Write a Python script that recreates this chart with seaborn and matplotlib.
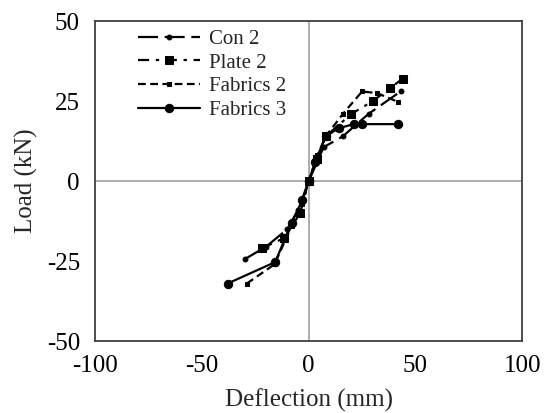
import matplotlib
matplotlib.use("Agg")
import matplotlib.pyplot as plt
import seaborn as sns
import pandas as pd

# Load-deflection curves (deflection in mm, load in kN)
con2_defl = [-30, -20, -10, -5, 0, 7, 16, 28, 43]
con2_load = [-24.4, -20.5, -15, -9, 0, 10.6, 14, 21, 28]

plate2_defl = [-22, -11.5, -4, 0, 4, 8, 20, 30, 38, 44]
plate2_load = [-21, -17.8, -10, 0, 7, 14, 21, 25, 29, 32]

fabrics2_defl = [-29, -16, -8, -3, 0, 4, 8, 16, 25, 32, 42]
fabrics2_load = [-32, -26, -14, -7, 0, 8, 14, 21, 28, 27.5, 24.7]

fabrics3_defl = [-38, -15.7, -8, -3, 0, 3, 8, 14, 21, 25, 42]
fabrics3_load = [-32, -25.3, -13, -6, 0, 6, 14, 16.5, 17.8, 17.8, 17.8]

series_names = ["Con 2", "Plate 2", "Fabrics 2", "Fabrics 3"]

x_ticks = [-100, -50, 0, 50, 100]
y_ticks = [-50, -25, 0, 25, 50]

frames = []
for name, xs, ys in zip(series_names,
                        [con2_defl, plate2_defl, fabrics2_defl, fabrics3_defl],
                        [con2_load, plate2_load, fabrics2_load, fabrics3_load]):
    frames.append(pd.DataFrame({"Deflection": xs, "Load": ys, "Specimen": name}))
df = pd.concat(frames, ignore_index=True)

sns.set_style("white")
plt.rcParams["font.family"] = ["Liberation Serif", "DejaVu Serif"]
plt.rcParams["axes.unicode_minus"] = False

styles = {
    "Con 2": dict(dashes=(9, 3), marker="o", markersize=3.5),
    "Plate 2": dict(dashes=(5, 3, 1.5, 3), marker="s", markersize=6),
    "Fabrics 2": dict(dashes=(3.5, 2), marker="s", markersize=3),
    "Fabrics 3": dict(dashes=(1, 0), marker="o", markersize=6),
}

fig, ax = plt.subplots(figsize=(5.44, 4.13), dpi=100)
fig.subplots_adjust(left=0.175, right=0.96, top=0.949, bottom=0.174)

ax.axhline(0, color="#a0a0a0", lw=1.2, zorder=1)
ax.axvline(0, color="#a0a0a0", lw=1.2, zorder=1)

for name in series_names:
    sub = df[df["Specimen"] == name]
    st = styles[name]
    sns.lineplot(data=sub, x="Deflection", y="Load", sort=False, ax=ax,
                 color="black", lw=1.6, marker=st["marker"],
                 markersize=st["markersize"], markeredgecolor="black",
                 label=name, zorder=3, estimator=None)
    line = ax.get_lines()[-1]
    if st["dashes"] != (1, 0):
        line.set_dashes(st["dashes"])

ax.set_xlim(-100, 100)
ax.set_ylim(-50, 50)
ax.set_xticks(x_ticks)
ax.set_yticks(y_ticks)
ax.tick_params(length=0, labelsize=18, colors="black")
ax.tick_params(axis="x", pad=10)
ax.tick_params(axis="y", pad=11)
ax.set_xlabel("Deflection (mm)", fontsize=18, labelpad=8)
ax.set_ylabel("Load (kN)", fontsize=18, labelpad=6)
for sp in ax.spines.values():
    sp.set_color("#404040")
    sp.set_linewidth(1.3)

leg = ax.legend(loc="upper left", bbox_to_anchor=(0.08, 1.0), frameon=False,
                fontsize=15, handlelength=3.0, handletextpad=0.4,
                labelspacing=0.2, borderaxespad=0)
for h, name in zip(leg.get_lines(), series_names):
    st = styles[name]
    if st["dashes"] != (1, 0):
        h.set_dashes(st["dashes"])

fig.savefig("out.png", dpi=100)
